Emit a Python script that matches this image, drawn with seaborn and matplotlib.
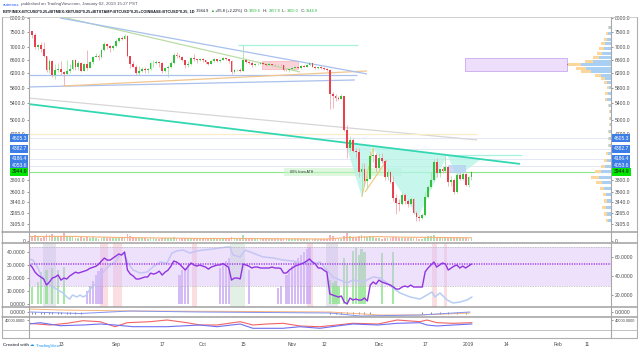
import numpy as np
import pandas as pd
import matplotlib
matplotlib.use("Agg")
import matplotlib.pyplot as plt
import matplotlib.ticker as mticker
from matplotlib.patches import Rectangle, Polygon
from matplotlib.lines import Line2D
import seaborn as sns

# ---------------------------------------------------------------- data
start_date = "2018-08-02"

opens = [7600, 7530, 7400, 7010, 7050, 6950, 6720, 6300, 6550, 6150,
         6300, 6330, 6250, 6190, 6280, 6320, 6580, 6400, 6500, 6270,
         6480, 6360, 6530, 6700, 6730, 6680, 6920, 7100, 7020, 6980,
         7030, 7200, 7290, 7260, 7370, 6720, 6480, 6400, 6200, 6270,
         6320, 6290, 6330, 6490, 6510, 6540, 6500, 6260, 6350, 6400,
         6500, 6760, 6720, 6700, 6590, 6440, 6460, 6660, 6620, 6590,
         6620, 6580, 6520, 6480, 6570, 6620, 6570, 6600, 6660, 6630,
         6570, 6240, 6290, 6300, 6280, 6580, 6540, 6510, 6440, 6460,
         6480, 6490, 6470, 6450, 6460, 6440, 6430, 6440, 6430, 6300,
         6290, 6330, 6360, 6390, 6370, 6420, 6400, 6440, 6490, 6400,
         6350, 6380, 6360, 6330, 6300, 5650, 5600, 5540, 5510, 5580,
         4780, 4400, 4570, 4350, 4330, 3950, 4000, 3780, 3820, 4250,
         4270, 4010, 4200, 4140, 3850, 3950, 3760, 3500, 3420, 3400,
         3550, 3450, 3400, 3480, 3270, 3200, 3190, 3230, 3520, 3680,
         3800, 4120, 3930, 3990, 3960, 4030, 3760, 3800, 3590, 3880,
         3820, 3900, 3720, 3859.6]
highs = [7700, 7540, 7480, 7100, 7150, 7150, 6730, 6620, 6580, 6480,
         6500, 6550, 6260, 6600, 6480, 6600, 6620, 6550, 6530, 6500,
         6900, 6550, 6720, 6800, 6770, 6950, 7150, 7130, 7050, 7080,
         7250, 7330, 7350, 7420, 7400, 6730, 6550, 6450, 6420, 6380,
         6400, 6350, 6530, 6600, 6580, 6550, 6530, 6400, 6450, 6550,
         6800, 6830, 6780, 6730, 6600, 6550, 6700, 6780, 6640, 6660,
         6650, 6600, 6530, 6600, 6650, 6630, 6620, 6700, 6670, 6640,
         6580, 6320, 6330, 6350, 7050, 6620, 6560, 6560, 6490, 6500,
         6540, 6520, 6480, 6520, 6470, 6470, 6460, 6460, 6440, 6330,
         6360, 6400, 6420, 6400, 6450, 6440, 6460, 6520, 6500, 6420,
         6400, 6410, 6390, 6360, 6320, 5700, 5650, 5580, 5650, 5600,
         4900, 4650, 4600, 4400, 4400, 4100, 4100, 3880, 4350, 4400,
         4300, 4300, 4300, 4170, 4000, 3960, 3870, 3560, 3480, 3600,
         3580, 3480, 3520, 3500, 3300, 3230, 3270, 3600, 3720, 3950,
         4180, 4200, 4000, 4050, 4250, 4050, 3870, 3840, 3920, 3950,
         3950, 3920, 3870, 3957.8]
lows = [7450, 7300, 6950, 6900, 6850, 6700, 6250, 6200, 6100, 6050,
        6230, 6150, 5880, 6170, 6200, 6300, 6300, 6300, 6250, 6260,
        6300, 6350, 6480, 6680, 6600, 6660, 6880, 6950, 6830, 6900,
        7010, 7150, 7220, 7250, 6700, 6350, 6380, 6150, 6150, 6250,
        6200, 6200, 6300, 6400, 6480, 6400, 6220, 6240, 6100, 6350,
        6480, 6650, 6650, 6560, 6350, 6400, 6440, 6560, 6500, 6560,
        6530, 6480, 6430, 6470, 6540, 6540, 6530, 6580, 6600, 6500,
        6170, 6210, 6270, 6250, 6270, 6500, 6480, 6400, 6420, 6440,
        6470, 6450, 6420, 6440, 6420, 6420, 6420, 6420, 6270, 6270,
        6250, 6320, 6350, 6350, 6340, 6380, 6390, 6430, 6380, 6330,
        6340, 6320, 6310, 6280, 5270, 5300, 5450, 5480, 5500, 4750,
        4200, 4350, 4330, 4200, 3850, 3550, 3700, 3650, 3810, 4120,
        3950, 3990, 4100, 3800, 3800, 3750, 3450, 3250, 3300, 3380,
        3400, 3350, 3390, 3250, 3150, 3140, 3180, 3220, 3500, 3660,
        3780, 3850, 3850, 3920, 3950, 3700, 3700, 3570, 3580, 3800,
        3800, 3700, 3680, 3805.0]
closes = [7530, 7400, 7010, 7050, 6950, 6720, 6300, 6550, 6150, 6300,
          6330, 6250, 6190, 6280, 6320, 6580, 6400, 6500, 6270, 6480,
          6360, 6530, 6700, 6730, 6680, 6920, 7100, 7020, 6980, 7030,
          7200, 7290, 7260, 7370, 6720, 6480, 6400, 6200, 6270, 6320,
          6290, 6330, 6490, 6510, 6540, 6500, 6260, 6350, 6400, 6500,
          6760, 6720, 6700, 6590, 6440, 6460, 6660, 6620, 6590, 6620,
          6580, 6520, 6480, 6570, 6620, 6570, 6600, 6660, 6630, 6570,
          6240, 6290, 6300, 6280, 6580, 6540, 6510, 6440, 6460, 6480,
          6490, 6470, 6450, 6460, 6440, 6430, 6440, 6430, 6300, 6290,
          6330, 6360, 6390, 6370, 6420, 6400, 6440, 6490, 6400, 6350,
          6380, 6360, 6330, 6300, 5650, 5600, 5540, 5510, 5580, 4780,
          4400, 4570, 4350, 4330, 3950, 4000, 3780, 3820, 4250, 4270,
          4010, 4200, 4140, 3850, 3950, 3760, 3500, 3420, 3400, 3550,
          3450, 3400, 3480, 3270, 3200, 3190, 3230, 3520, 3680, 3800,
          4120, 3930, 3990, 3960, 4030, 3760, 3800, 3590, 3880, 3820,
          3900, 3720, 3859.1, 3944.9]
volumes = [4, 5, 6, 4, 3, 5, 7, 6, 7, 5, 4,
           5, 8, 5, 4, 4, 3, 3, 4,
           3, 4, 3, 4, 3, 2, 3, 4, 3, 3, 3,
           3, 3, 3, 4, 7, 5, 4, 3, 3, 3,
           3, 2, 3, 3, 2, 2, 3, 3, 3, 3,
           4, 3, 2, 3, 3, 3, 3, 2, 2, 2,
           2, 2, 2, 2, 2, 2, 2, 2, 2, 2,
           4, 3, 2, 2, 6, 3, 2, 2, 2, 2,
           2, 2, 2, 2, 2, 2, 2, 2, 2, 2, 2,
           2, 2, 2, 2, 2, 2, 2, 2, 2, 2, 2, 2, 2,
           6, 5, 3, 2, 2, 5, 8,
           5, 3, 3, 5, 6, 5, 4, 5, 4, 3,
           3, 2, 3, 3, 3, 4, 4, 3, 3, 3,
           3, 3, 3, 3, 2, 2, 4, 5, 5, 6,
           4, 3, 3, 4, 4, 3, 3, 4, 3, 3, 3,
           2, 3]
vol_ma_idx = [0, 15, 30, 45, 60, 75, 90, 103, 110, 120, 130, 140, 153]
vol_ma_vals = [4.5, 4.6, 3.6, 3.0, 2.5, 2.5, 2.2, 2.0, 3.4, 4.4, 3.8, 3.6, 3.2]

rsi_values = [52.4, 49.3, 44.1, 41.0, 39.0, 36.9, 30.7, 33.8, 37.9, 39.0,
              41.0, 35.8, 37.9, 36.9, 40.0, 42.0, 44.0, 43.0, 44.0, 45.0,
              46.0, 48.0, 49.0, 50.0, 52.0, 55.5, 58.6, 56.5, 56.5, 58.6,
              60.7, 62.8, 61.7, 64.9, 46.2, 42.0, 40.0, 36.9, 36.9, 38.0,
              39.0, 39.0, 43.0, 42.0, 43.0, 45.0, 41.0, 44.0, 46.0, 50.0,
              55.5, 54.5, 52.4, 49.3, 46.2, 50.0, 53.5, 51.4, 50.3, 51.4,
              50.3, 49.3, 47.2, 49.3, 50.3, 51.4, 51.4, 53.0, 51.0, 49.0,
              35.8, 37.9, 37.9, 37.0, 52.4, 51.4, 50.3, 48.3, 49.3, 49.3,
              48.3, 48.3, 48.3, 48.3, 49.3, 48.3, 48.3, 48.0, 43.1, 43.1,
              46.2, 48.3, 50.3, 51.4, 52.4, 53.5, 55.5, 57.6, 54.5, 52.4,
              48.3, 48.3, 46.0, 44.0, 21.4, 20.3, 19.3, 18.2, 19.3, 13.0,
              11.0, 17.2, 15.1, 16.2, 15.1, 15.1, 17.2, 14.1, 30.6, 33.8,
              31.7, 35.8, 33.8, 32.7, 31.7, 30.6, 28.6, 26.5, 26.5, 28.6,
              29.6, 28.6, 30.6, 28.6, 28.6, 28.6, 28.6, 44.4, 48.3, 51.4,
              54.5, 49.3, 51.4, 53.5, 52.4, 46.2, 48.3, 50.3, 51.4, 48.3,
              50.3, 48.3, 50.3, 52.4]
blue_idx = [0, 1.3, 3, 4.4, 6.2, 7.2, 8.2, 10, 11.7, 13, 14, 15, 16.5, 17.6, 18.6,
            20, 20.3, 21.7, 23.5, 24.5, 26.2, 28, 29.7, 31.4, 32.8, 34.2, 35.9,
            38.3, 40.8, 42.8, 45.3, 47.7, 49.4, 51.1, 53.2, 55.6, 58.1, 60.1,
            63.6, 66, 68.4, 69.5, 70.5, 73, 74.7, 77.4, 80.9, 84.4, 87.8, 91.3,
            93.7, 97.2, 99.6, 100.6, 103, 105.1, 107.5, 110, 112, 115.5, 119,
            121.4, 123.8, 125.9, 128.3, 131.8, 135.2, 137.6, 139.4, 140.4,
            142.1, 144.6, 146.6, 149, 151.5, 153.2]
blue_vals = [34.6, 33.8, 27.7, 20.8, 16.2, 14.6, 13.1, 10.8, 8.5, 5.4, 3.8, 6.9,
             5.4, 6.9, 5.4, 6.9, 9.2, 13.1, 16.2, 20.8, 26.2, 30.0, 32.3, 37.7,
             39.2, 31.5, 26.2, 23.8, 24.6, 28.5, 32.3, 31.5, 39.2, 40.8, 41.5,
             39.2, 40.8, 41.5, 42.3, 43.1, 43.8, 43.8, 37.7, 36.2, 41.5, 39.2,
             36.2, 35.4, 33.8, 33.1, 31.5, 32.3, 31.5, 32.3, 26.2, 20.8, 18.5,
             16.2, 18.5, 16.9, 20.8, 20.0, 16.2, 12.3, 8.5, 5.4, 3.8, 6.9, 9.2,
             5.4, 8.5, 3.1, 0.8, 1.5, 3.1, 5.4]
green_bar_idx = [1, 3, 4, 6, 8, 10, 12, 104, 105, 106, 107, 109, 110, 112, 113,
                 114, 115, 116, 122, 126]
green_bar_vals = [13, 17, 24.6, 26, 27.7, 26, 28.5, 18.5, 16, 18, 14, 35, 30, 41,
                  43, 38, 42, 40, 39, 40]
lav_bar_idx = [20, 21, 22, 23, 24, 25, 52, 53, 54, 55, 66, 67, 68, 69, 76, 86, 87,
               89, 90, 91, 92, 93, 94, 95, 96, 97]
lav_bar_vals = [10, 14, 18, 22, 25, 28, 22, 26, 28, 30, 28, 31, 33, 35, 26, 12, 14,
                22, 26, 29, 32, 35, 38, 40, 42, 44]
gray_spans = [(4.9, 9.1), (102.8, 106.8)]
pink_spans = [(24.5, 27.3), (29.0, 32.0), (56.3, 58.0), (96.1, 98.2),
              (139.4, 141.2), (143.5, 144.6)]
green_spans = [(69.5, 74.7)]

macd_idx = [0, 10.7, 34.9, 76.4, 104, 121.4, 135.2, 152.5]
macd_orange = [3, 2, 1, 0.5, 0, -3, -3, -1]
macd_blue_idx = [0, 17.6, 34.9, 59, 104, 114.5, 135.2, 152.5]
macd_blue = [0, -1.5, 1, 0, -1, -4, -3, 0]
macd_mark_idx = [1, 2, 4, 5, 7, 8, 10, 11, 13, 14, 16, 18, 104, 106, 108, 110, 112,
                 114, 116, 118, 136, 139, 142, 145, 148, 151]

low_idx_red = [0, 7.2, 13.1, 18.6, 24.5, 29.7, 33.9, 41.8, 47.7, 54.6, 59.1, 65,
               70.5, 73, 77.4, 82.3, 87.8, 93.7, 100.6, 106.5, 112, 120.7, 127.3,
               135.2, 137.6, 141.1, 146.6, 153.2]
low_red = [33400, 30000, 33400, 38600, 36600, 26600, 34600, 36600, 40000, 34600,
           30000, 30000, 34600, 36600, 30000, 32000, 33400, 28000, 26600, 30000,
           33400, 32000, 40000, 36600, 40000, 34600, 33400, 34600]
low_idx_blue = [0, 3.8, 10.7, 18.6, 24.5, 29.7, 35.9, 47.7, 59.1, 65, 73, 77.4,
                87.8, 93.7, 100.6, 106.5, 112, 120.7, 127.3, 135.2, 137.6, 141.1,
                146.6, 153.2]
low_blue = [32000, 34600, 28600, 30000, 32000, 30000, 26600, 26600, 30000, 26600,
            32000, 23400, 23400, 26600, 23400, 28000, 32000, 30000, 33400, 34600,
            30000, 28000, 30000, 32000]

price_ticks = [8000, 7500, 7000, 6600, 6200, 5800, 5400, 5000, 4700,
               3800, 3600, 3440, 3265, 3105]
level_values = [4605.3, 4382.7, 4186.4, 4053.6]
last_price = 3944.9

tick_dates = ["2018-08-13", "2018-09-01", "2018-09-17", "2018-10-01", "2018-10-15",
              "2018-11-01", "2018-11-12", "2018-12-01", "2018-12-17", "2019-01-01",
              "2019-01-14", "2019-02-01", "2019-02-11"]
tick_labels = ["13", "Sep", "17", "Oct", "15", "Nov", "12", "Dec", "17", "2019",
               "14", "Feb", "11"]

# drawing tools (index, price)
upper_blue = ([10.7, 116.9], [7998, 6185])
green_tl = ([11.4, 93.7], [8035, 6242])
orange_tl = ([11.7, 116.9], [5852, 6270])
lower_blue = ([-0.4, 112.7], [5826, 6016])
support_tl = ([-0.4, 113.4], [6156, 6156])
gray_tl = ([-0.4, 155], [5538, 4567])
teal_tl = ([-0.4, 169.8], [5388, 4091])
cream_lvl = ([-0.4, 155], [4700, 4700])
top_lvl = ([72.3, 113.8], [7065, 7065])
neck_lvl = ([144.6, 170.5], [4263, 4263])
flag_a = ([115.1, 119.0], [3515, 4403])
flag_b = ([116.2, 123.8], [3596, 4165])
ihs_idx = [109.3, 115.1, 118.6, 134.5, 144.6, 148.0, 156.0]
ihs_price = [4525, 3515, 4423, 3191, 4263, 3853, 4165]
ath_box = (88, 129, 3871, 4015)
blue_box = (144.9, 151.1, 3924, 4071)
pink_box = (80.6, 93.0, 6328, 6565)
lav_box = (150.8, 186.1, 6280, 6650)
poc = ([186.1, 201.3], [6460, 6460])

prof_price = [7650, 7450, 7250, 7100, 6950, 6800, 6680, 6560, 6450, 6350, 6250,
              6150, 6050, 5950, 5800, 5650, 5500, 5350, 5200, 5050, 4900, 4750,
              4600, 4450, 4300, 4150, 4050, 3950, 3850, 3750, 3650, 3550, 3450,
              3350, 3250, 3150]
prof_blue = [2, 3, 4, 6, 7, 9, 12, 18, 30, 25, 20, 10, 6, 4, 2, 3, 4, 2, 1, 1, 1,
             2, 2, 2, 3, 4, 6, 10, 12, 9, 7, 5, 4, 5, 4, 3]
prof_orange = [1, 2, 3, 4, 5, 5, 6, 8, 13, 10, 10, 6, 4, 3, 2, 3, 2, 1, 1, 1, 1,
               1, 1, 1, 2, 3, 4, 6, 8, 6, 4, 3, 3, 4, 3, 2]

# ---------------------------------------------------------------- style
sns.set_theme(style="white")
plt.rcParams['font.family'] = ['Liberation Sans', 'DejaVu Sans']

W, H = 640, 352
fig = plt.figure(figsize=(6.4, 3.52), dpi=100)
fig.patch.set_facecolor('white')
XLIM = (-0.07, 201.3)
GREEN, RED = '#33c03b', '#e8404c'
GREEN_W, RED_W = '#a6e3a9', '#f3aab0'
LBL = '#4a4a4a'
TICK = dict(labelsize=3.6, colors=LBL, length=1.5, width=0.4, pad=1)


def px_axes(x0, y0, x1, y1):
    ax = fig.add_axes([x0 / W, 1 - y1 / H, (x1 - x0) / W, (y1 - y0) / H])
    ax.set_facecolor('none')
    for s in ax.spines.values():
        s.set_visible(False)
    ax.set_xlim(*XLIM)
    ax.tick_params(axis='x', bottom=False, labelbottom=False)
    return ax


def style_y(ax, ticks, fmt, left=True, right=True, size=3.6):
    ax.yaxis.set_major_locator(mticker.FixedLocator(ticks))
    ax.yaxis.set_minor_locator(mticker.NullLocator())
    ax.yaxis.set_major_formatter(mticker.FuncFormatter(lambda v, p: fmt.format(v)))
    kw = dict(TICK)
    kw['labelsize'] = size
    ax.tick_params(axis='y', which='both', left=left, right=right,
                   labelleft=left, labelright=right, **kw)


XL, XR = 29, 611
ax_p = px_axes(XL, 17, XR, 232)
ax_v = px_axes(XL, 232, XR, 243)
ax_l = px_axes(XL, 243, XR, 307)
ax_m = px_axes(XL, 307, XR, 317)
ax_b = px_axes(XL, 317, XR, 330)
ax_prof = px_axes(530, 17, XR, 232)

idx = np.arange(len(closes))
o, h, l, c = (np.array(a, dtype=float) for a in (opens, highs, lows, closes))
up = c >= o

# ---------------------------------------------------------------- price panel
ax_p.set_yscale('log')
ax_p.set_ylim(2992, 8035)
style_y(ax_p, price_ticks, "{:.1f}")

for lv in level_values:
    ax_p.axhline(lv, color='#dfe3f4', lw=0.6, zorder=1)
ax_p.axhline(last_price, color='#86e886', lw=0.8, zorder=1)

x0, x1, y0, y1 = ath_box
ax_p.add_patch(Rectangle((x0, y0), x1 - x0, y1 - y0, fc='#c9f3c9', ec='none', alpha=0.6, zorder=1))
ax_p.text(90.3, last_price, "80% from ATH", fontsize=2.6, color='#333', va='center', zorder=6)
ax_p.add_patch(Polygon(list(zip(ihs_idx, ihs_price)), closed=True, fc='#b5f3e7', ec='none', alpha=0.75, zorder=1))
x0, x1, y0, y1 = blue_box
ax_p.add_patch(Rectangle((x0, y0), x1 - x0, y1 - y0, fc='#b7cdf3', ec='none', alpha=0.7, zorder=2))
x0, x1, y0, y1 = pink_box
ax_p.add_patch(Rectangle((x0, y0), x1 - x0, y1 - y0, fc='#f8c0c6', ec='#ee8a94', lw=0.4, alpha=0.7, zorder=2))
x0, x1, y0, y1 = lav_box
ax_p.add_patch(Rectangle((x0, y0), x1 - x0, y1 - y0, fc='#eddffb', ec='#c9a8ef', lw=0.6, zorder=2))

for (xs, ys), col, lw in [(gray_tl, '#d6d6d6', 0.9), (cream_lvl, '#f8eccb', 0.9),
                          (support_tl, '#a9c1ec', 0.9), (lower_blue, '#a9c1ec', 0.9),
                          (orange_tl, '#f2c58f', 0.9), (green_tl, '#bcdca6', 0.9),
                          (upper_blue, '#a7c0ee', 0.9), (top_lvl, '#a6f2dc', 0.9),
                          (neck_lvl, '#a6f2dc', 0.9), (teal_tl, '#33d8b2', 1.3),
                          (flag_a, '#f3c77a', 0.8), (flag_b, '#f3c77a', 0.8),
                          (poc, '#8a3b3b', 0.8)]:
    ax_p.plot(xs, ys, color=col, lw=lw, zorder=2, solid_capstyle='butt')

ax_p.vlines(idx, l, h, colors=np.where(up, GREEN_W, RED_W), lw=0.6, zorder=3)
bottoms = np.minimum(o, c)
heights = np.maximum(np.abs(c - o), bottoms * 0.002)
ax_p.bar(idx, heights, bottom=bottoms, width=0.62,
         color=np.where(up, GREEN, RED), linewidth=0, zorder=4)

yax = ax_p.get_yaxis_transform()
for lv in level_values + [last_price]:
    fc, tc = ('#00e600', '#111') if lv == last_price else ('#3c7de6', 'white')
    for xa, ha in ((-0.0035, 'right'), (1.0043, 'left')):
        ax_p.text(xa, lv, f"{lv:.1f}", transform=yax, ha=ha, va='center', fontsize=3.6,
                  color=tc, clip_on=False, zorder=7,
                  bbox=dict(boxstyle='square,pad=0.3', fc=fc, ec='none'))

# volume profile
ax_prof.set_yscale('log')
ax_prof.set_ylim(2992, 8035)
ax_prof.set_xlim(81, 0)
ax_prof.axis('off')
pp = np.array(prof_price, dtype=float)
ax_prof.barh(pp, prof_blue, height=pp * 0.014, left=0, color='#a9cff3', linewidth=0)
ax_prof.barh(pp, prof_orange, height=pp * 0.014, left=prof_blue, color='#fcd69a', linewidth=0)

# ---------------------------------------------------------------- volume panel
ax_v.set_ylim(-2, 9)
ax_v.bar(idx, volumes, width=0.62, color=np.where(up, '#a9e1ae', '#f5b3b8'), linewidth=0)
sns.lineplot(x=vol_ma_idx, y=vol_ma_vals, ax=ax_v, color='#f7b27a', lw=0.8)
style_y(ax_v, [0], "{:.0f}")
ax_v.set_xlabel(''); ax_v.set_ylabel('')

# ---------------------------------------------------------------- RSI panel
ax_l.set_ylim(-2.3, 46.9)
ax_r = ax_l.twinx()
for s in ax_r.spines.values():
    s.set_visible(False)
ax_r.set_ylim(7.9, 74.2)
ax_r.set_xlim(*XLIM)

for a, b in gray_spans:
    ax_l.axvspan(a, b, color='#cfcfe0', alpha=0.5, lw=0, zorder=0)
for a, b in pink_spans:
    ax_l.axvspan(a, b, color='#f9c8d0', alpha=0.6, lw=0, zorder=0)
for a, b in green_spans:
    ax_l.axvspan(a, b, color='#cfe6d4', alpha=0.6, lw=0, zorder=0)
ax_l.bar(green_bar_idx, green_bar_vals, width=0.75, color='#86e386', alpha=0.75, linewidth=0)
ax_l.bar(lav_bar_idx, lav_bar_vals, width=0.75, color='#c7a4f4', alpha=0.75, linewidth=0)
sns.lineplot(x=blue_idx, y=blue_vals, ax=ax_l, color='#b7cdf3', lw=1.1)

ax_r.axhspan(30, 70, color='#d8bdf7', alpha=0.45, lw=0, zorder=0)
ax_r.axhline(70, color='#b5b5b5', ls=(0, (2, 1.5)), lw=0.5)
ax_r.axhline(30, color='#b5b5b5', ls=(0, (2, 1.5)), lw=0.5)
ax_r.axhline(52, color='#a240e6', ls=(0, (0.8, 0.8)), lw=1.1)
sns.lineplot(x=idx, y=rsi_values, ax=ax_r, color='#9233e0', lw=1.0)
style_y(ax_l, [0, 10, 20, 30, 40], "{:.4f}", left=True, right=False)
style_y(ax_r, [20, 40, 60], "{:.4f}", left=False, right=True)
ax_r.tick_params(axis='x', bottom=False, labelbottom=False)
for a in (ax_l, ax_r):
    a.set_xlabel(''); a.set_ylabel('')

# ---------------------------------------------------------------- small panels
ax_m.set_ylim(-5, 5)
sns.lineplot(x=macd_idx, y=macd_orange, ax=ax_m, color='#f7b27a', lw=0.7)
sns.lineplot(x=macd_blue_idx, y=macd_blue, ax=ax_m, color='#8193ef', lw=0.7)
ax_m.scatter(macd_mark_idx, [-1] * len(macd_mark_idx), marker='|', s=2, color='#555', lw=0.5)
style_y(ax_m, [0], "{:.4f}")
ax_m.set_xlabel(''); ax_m.set_ylabel('')

ax_b.set_ylim(20000, 46000)
sns.lineplot(x=low_idx_red, y=low_red, ax=ax_b, color='#f26464', lw=0.8)
sns.lineplot(x=low_idx_blue, y=low_blue, ax=ax_b, color='#6e6ef2', lw=0.8)
style_y(ax_b, [40000], "{:.4f}", size=2.9)
start = pd.Timestamp(start_date)
tick_pos = [(pd.Timestamp(d) - start).days for d in tick_dates]
ax_b.set_xticks(tick_pos)
ax_b.set_xticklabels(tick_labels)
ax_b.tick_params(axis='x', bottom=False, labelbottom=True, labelsize=3.6, colors=LBL, pad=2.5)
ax_b.set_xlabel(''); ax_b.set_ylabel('')

# ---------------------------------------------------------------- frame
def fline(xa, ya, xb, yb, col='#a9a9a9', lw=0.9):
    fig.add_artist(Line2D([xa / W, xb / W], [1 - ya / H, 1 - yb / H],
                          transform=fig.transFigure, color=col, lw=lw))

fline(2, 17, 637, 17, '#c8c8c8', 0.6)
fline(2, 338, 637, 338, '#b0b0b0', 0.8)
fline(2, 17, 2, 338, '#b0b0b0', 0.8)
fline(637, 17, 637, 338, '#b0b0b0', 0.8)
for yy in (232, 243, 307, 317):
    fline(2, yy, 637, yy, '#a0a0a0', 1.1)
fline(2, 330, 637, 330, '#b8b8b8', 0.6)
fline(28.5, 17, 28.5, 338, '#a8a8a8', 0.8)
fline(611, 17, 611, 338, '#a8a8a8', 0.8)

# ---------------------------------------------------------------- header / footer
renderer = fig.canvas.get_renderer()


def text_width(s, size, weight='normal'):
    t = fig.text(0, 0, s, fontsize=size, fontweight=weight)
    w = t.get_window_extent(renderer).width
    t.remove()
    return w


def put_parts(x, y, parts, size):
    for s, col, wt in parts:
        t = fig.text(x / W, 1 - y / H, s, color=col, fontsize=size, fontweight=wt,
                     ha='left', va='center')
        x += t.get_window_extent(renderer).width


line1 = [("autemox", '#2962ff', 'normal'),
         (" published on TradingView.com, January 02, 2019 15:27 PST", '#50535e', 'normal')]
s1 = 10 * 134 / text_width("".join(p[0] for p in line1), 10)
put_parts(3, 4.5, line1, s1)

sym = "BITFINEX:BTCUSD*0.25+BITMEX:XBTUSD*0.25+BITSTAMP:BTCUSD*0.25+COINBASE:BTCUSD*0.25, 1D"
s2 = 10 * 189 / text_width(sym, 10, 'bold')
line2 = [(sym, '#131722', 'bold'), ("  3944.9 ", '#131722', 'normal'),
         ("▲", '#22b33a', 'normal'), (" +85.8 (+2.22%)  O: ", '#131722', 'normal'),
         ("3859.6", '#22b33a', 'normal'), ("  H: ", '#131722', 'normal'),
         ("3957.8", '#22b33a', 'normal'), ("  L: ", '#131722', 'normal'),
         ("3805.0", '#22b33a', 'normal'), ("  C: ", '#131722', 'normal'),
         ("3944.9", '#22b33a', 'normal')]
put_parts(3, 11, line2, s2)

s3 = 10 * 26 / text_width("Created with", 10, 'bold')
put_parts(3, 345.5, [("Created with ", '#50535e', 'bold'), ("☁", '#2196f3', 'normal'),
                     (" TradingView", '#2196f3', 'normal')], s3)

fig.savefig("out.png", dpi=100, facecolor='white')
